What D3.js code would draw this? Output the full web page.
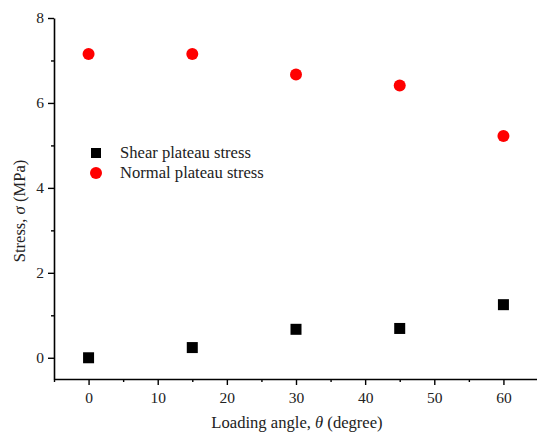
<!DOCTYPE html>
<html>
<head>
<meta charset="utf-8">
<script src="https://cdn.jsdelivr.net/npm/d3@7"></script>
<style>
  body { margin: 0; background: #fff; }
  text { font-family: "Liberation Serif", "Times New Roman", serif; fill: #222; }
</style>
</head>
<body>
<script>
// data
var angles = [0, 15, 30, 45, 60];
var shearStress = [0, 0.24, 0.67, 0.69, 1.25];
var normalStress = [7.15, 7.15, 6.67, 6.41, 5.22];
var xTicks = [0, 10, 20, 30, 40, 50, 60];
var yTicks = [0, 2, 4, 6, 8];
var seriesNames = ["Shear plateau stress", "Normal plateau stress"];

var svg = d3.select("body").append("svg").attr("width", 537).attr("height", 432);

var x = d3.scaleLinear().domain([-5, 65]).range([54, 538]);
var y = d3.scaleLinear().domain([-0.5, 8]).range([379, 18]);

// x axis, major + minor ticks
svg.append("g").attr("transform", "translate(0,379)")
    .call(d3.axisBottom(x).tickValues(xTicks).tickSize(6).tickPadding(7).tickSizeOuter(0));
svg.append("g").attr("transform", "translate(0,379)")
    .call(d3.axisBottom(x).tickValues([-5, 5, 15, 25, 35, 45, 55, 65]).tickSize(3).tickFormat("").tickSizeOuter(0))
    .select(".domain").remove();

svg.append("g").attr("transform", "translate(54,0)")
    .call(d3.axisLeft(y).tickValues(yTicks).tickSize(6).tickPadding(4).tickSizeOuter(0));
svg.append("g").attr("transform", "translate(54,0)")
    .call(d3.axisLeft(y).tickValues([1, 3, 5, 7]).tickSize(3).tickFormat("").tickSizeOuter(0))
    .select(".domain").remove();

svg.selectAll(".domain").attr("stroke", "#000").attr("stroke-width", 1.6);
svg.selectAll(".tick line").attr("stroke", "#000").attr("stroke-width", 1.4);
svg.selectAll(".tick text").attr("font-family", "Liberation Serif").attr("font-size", 15.5).attr("fill", "#222");

// axis titles
var xt = svg.append("text").attr("x", 297).attr("y", 428).attr("text-anchor", "middle").attr("font-size", 16.6);
xt.append("tspan").text("Loading angle, ");
xt.append("tspan").attr("font-style", "italic").text("θ");
xt.append("tspan").text(" (degree)");

var yt = svg.append("text").attr("transform", "translate(25,211) rotate(-90)").attr("text-anchor", "middle").attr("font-size", 16.6);
yt.append("tspan").text("Stress, ");
yt.append("tspan").attr("font-style", "italic").text("σ");
yt.append("tspan").text(" (MPa)");

// points
svg.selectAll("rect.shear")
    .data(angles)
    .enter().append("rect")
      .attr("class", "shear")
      .attr("x", function(d){ return x(d) - 5.5; })
      .attr("y", function(d, i){ return y(shearStress[i]) - 5.5; })
      .attr("width", 11).attr("height", 11)
      .attr("fill", "#000");

svg.selectAll("circle.normal")
    .data(angles)
    .enter().append("circle")
      .attr("class", "normal")
      .attr("cx", function(d){ return x(d); })
      .attr("cy", function(d, i){ return y(normalStress[i]); })
      .attr("r", 6)
      .attr("fill", "#ff0000");

// legend
svg.append("rect").attr("x", 91).attr("y", 148).attr("width", 10).attr("height", 10).attr("fill", "#000");
svg.append("circle").attr("cx", 96).attr("cy", 173).attr("r", 6).attr("fill", "#ff0000");
svg.selectAll("text.leg")
    .data(seriesNames)
    .enter().append("text")
      .attr("class", "leg")
      .attr("x", 120)
      .attr("y", function(d, i){ return 158 + i * 20; })
      .attr("font-size", 16.6)
      .text(function(d){ return d; });
</script>
</body>
</html>
